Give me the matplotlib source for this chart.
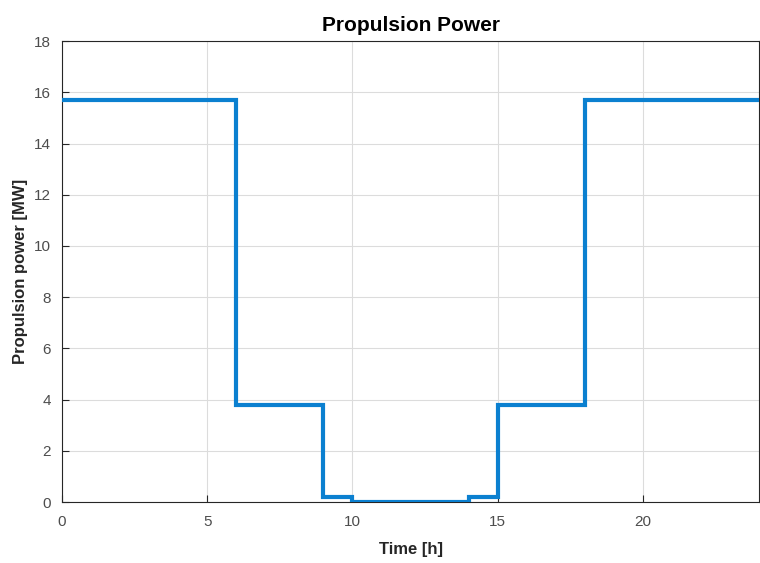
import matplotlib

matplotlib.use("Agg")
import matplotlib.pyplot as plt

plt.rcParams["font.family"] = ["Liberation Sans", "DejaVu Sans"]

# Propulsion power schedule over one day (step changes at these hours)
hours = [0, 6, 9, 10, 14, 15, 18, 24]
power_mw = [15.7, 3.8, 0.2, 0.0, 0.2, 3.8, 15.7, 15.7]

x_ticks = [0, 5, 10, 15, 20]
y_ticks = [0, 2, 4, 6, 8, 10, 12, 14, 16, 18]

fig = plt.figure(figsize=(7.6, 5.63), dpi=100)
ax = fig.add_axes([0.0816, 0.1083, 0.9171, 0.8187])

ax.step(hours, power_mw, where="post", color="#0B80D0", linewidth=3.0,
        solid_joinstyle="miter", zorder=3)

ax.set_xlim(0, 24)
ax.set_ylim(0, 18)
ax.set_xticks(x_ticks)
ax.set_yticks(y_ticks)
ax.grid(True, color="#dcdcdc", linewidth=0.8)
ax.set_axisbelow(True)
ax.tick_params(direction="in", length=5, width=0.8, colors="#262626",
               labelcolor="#4d4d4d", labelsize=11, top=False, right=False)
ax.tick_params(axis="x", pad=9)
ax.tick_params(axis="y", pad=8)
for spine in ax.spines.values():
    spine.set_color("#262626")
    spine.set_linewidth(0.8)

ax.set_title("Propulsion Power", fontsize=15, fontweight="bold", pad=7)
ax.set_xlabel("Time [h]", fontsize=12, fontweight="bold", color="#262626", labelpad=10)
ax.set_ylabel("Propulsion power [MW]", fontsize=12, fontweight="bold", color="#262626",
              labelpad=4)

fig.savefig("out.png", dpi=100)
